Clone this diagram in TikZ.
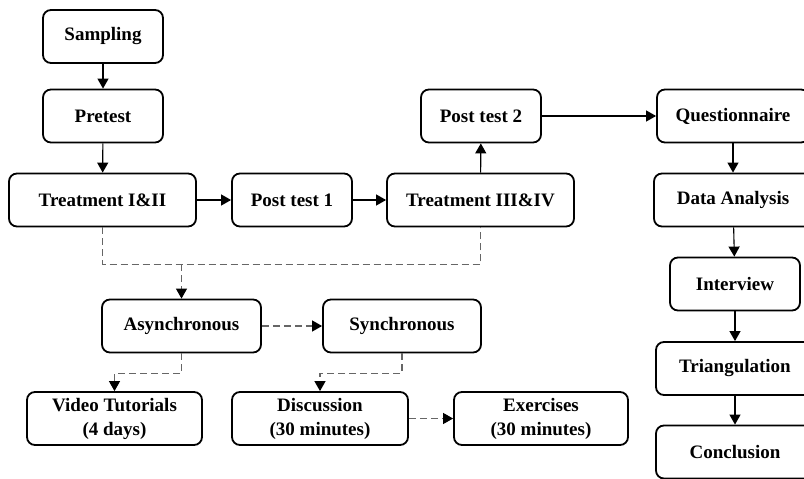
\documentclass[tikz,border=0pt]{standalone}
\usepackage{fontspec}
\setmainfont{Liberation Serif}
\usetikzlibrary{arrows.meta,positioning}

\begin{document}
\begin{tikzpicture}[x=1pt, y=-1pt]
        \tikzstyle{block} = [rectangle, draw, rounded corners=8pt, line width=1.8pt,
                             minimum height=53pt, align=center, inner sep=0pt,
                             font=\fontsize{19}{24}\selectfont\bfseries]
        \tikzstyle{arrow} = [draw, -{Triangle[length=10pt,width=11pt,color=black]},
                             line width=1.1pt]
        \tikzstyle{dashline} = [draw, black!60, dash pattern=on 7pt off 4pt,
                                line width=1.4pt]
        \clip (0,0) rectangle (804,479);
        % main sequence
        \node[block, minimum width=120pt] (samp) at (103,36.5) {Sampling};
        \node[block, minimum width=120pt] (pre) at (103,116) {Pretest};
        \path[arrow] (samp) -- (pre);
        \node[block, minimum width=187pt] (treatA) at (102.5,200) {Treatment I\&II};
        \path[arrow] (pre) -- (treatA);
        \node[block, minimum width=120pt] (postA) at (292,200) {Post test 1};
        \path[arrow] (treatA) -- (postA);
        \node[block, minimum width=187pt] (treatB) at (480.5,200) {Treatment III\&IV};
        \path[arrow] (postA) -- (treatB);
        \node[block, minimum width=120pt] (postB) at (481,116) {Post test 2};
        \path[arrow] (treatB) -- (postB);
        % right column
        \node[block, minimum width=152pt] (quest) at (733,116) {Questionnaire};
        \path[arrow] (postB) -- (quest);
        \node[block, minimum width=158pt] (data) at (733,200) {Data Analysis};
        \path[arrow] (quest) -- (data);
        \node[block, minimum width=130pt] (inter) at (735,284) {Interview};
        \path[arrow] (data) -- (inter);
        \node[block, minimum width=158pt] (tri) at (735,368.5) {Triangulation};
        \path[arrow] (inter) -- (tri);
        \node[block, minimum width=158pt] (concl) at (735,452) {Conclusion};
        \path[arrow] (tri) -- (concl);
        % treatment modes
        \node[block, minimum width=159pt] (async) at (181.5,326) {Asynchronous};
        \node[block, minimum width=158pt] (sync) at (402,326) {Synchronous};
        \node[block, minimum width=175pt] (video) at (114.5,418.5) {Video Tutorials\\(4 days)};
        \node[block, minimum width=176pt] (disc) at (320,418.5) {Discussion\\(30 minutes)};
        \node[block, minimum width=174pt] (exer) at (541,418.5) {Exercises\\(30 minutes)};
        \path[dashline] (treatA.south) -- ++(0,37) -| (treatB.south);
        \coordinate (split) at (async.north |- 0,264);
        \path[dashline, arrow] (split) -- (async.north);
        \path[dashline, arrow] (async) -- (sync);
        \path[dashline, arrow] (async.south) -- ++(0,20) -| (video.north);
        \path[dashline, arrow] (sync.south) -- ++(0,20) -| (disc.north);
        \path[dashline, arrow] (disc) -- (exer);
      \end{tikzpicture}
\end{document}
